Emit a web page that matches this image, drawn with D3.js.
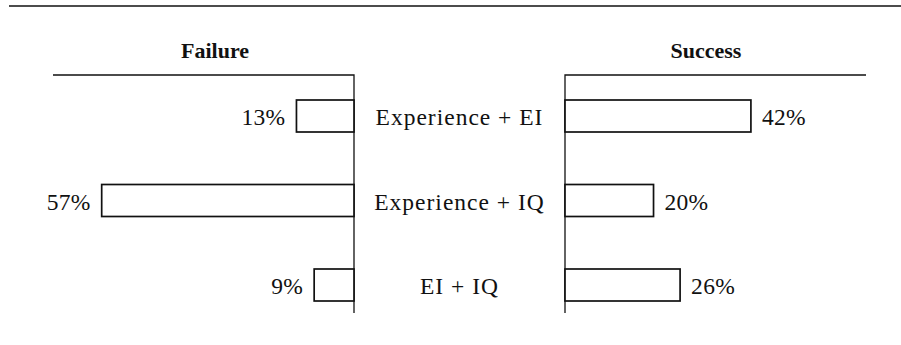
<!DOCTYPE html>
<html lang="en">
<head>
<meta charset="utf-8" />
<title>Failure vs Success</title>
<script src="https://cdn.jsdelivr.net/npm/d3@7"></script>
<style>
    body { margin: 0; background: #fff; }
    text { font-family: "Liberation Serif", "Times New Roman", serif; fill: #111; }
    .title { font-weight: bold; font-size: 22px; }
    .cat { font-size: 23.5px; letter-spacing: 1px; }
    .pct { font-size: 23.5px; letter-spacing: 0.3px; }
</style>
</head>
<body>
<script>
    let categories = ['Experience + EI', 'Experience + IQ', 'EI + IQ'];
    let failure = [13, 57, 9];
    let success = [42, 20, 26];

    let width = 901, height = 345;
    let failAxisX = 354, successAxisX = 565, axisTop = 75, axisBottom = 313;
    let barH = 32, gap = 11;

    let svg = d3.select('body').append('svg')
        .attr('width', width)
        .attr('height', height);

    // top rule
    svg.append('line')
        .attr('x1', 9).attr('x2', 901)
        .attr('y1', 6).attr('y2', 6)
        .attr('stroke', '#111').attr('stroke-width', 1.6);

    let len = d3.scaleLinear().domain([0, 68]).range([0, 301]);
    let y = d3.scalePoint().domain(categories).range([116, 285]);

    // axes: horizontal caps + vertical lines
    svg.append('path')
        .attr('d', `M${failAxisX - len(68)},${axisTop}H${failAxisX}V${axisBottom}`)
        .attr('fill', 'none').attr('stroke', '#111').attr('stroke-width', 1.3);
    svg.append('path')
        .attr('d', `M${successAxisX + len(68)},${axisTop}H${successAxisX}V${axisBottom}`)
        .attr('fill', 'none').attr('stroke', '#111').attr('stroke-width', 1.3);

    svg.append('text').attr('class', 'title')
        .attr('x', 215).attr('y', 58).attr('text-anchor', 'middle').text('Failure');
    svg.append('text').attr('class', 'title')
        .attr('x', 706).attr('y', 58).attr('text-anchor', 'middle').text('Success');

    let rows = categories.map((c, i) => ({ cat: c, fail: failure[i], succ: success[i] }));

    // failure bars
    svg.selectAll('.fail-bar').data(rows).enter().append('rect')
        .attr('class', 'fail-bar')
        .attr('x', d => failAxisX - len(d.fail))
        .attr('y', d => y(d.cat) - barH / 2)
        .attr('width', d => len(d.fail))
        .attr('height', barH)
        .attr('fill', '#fff').attr('stroke', '#111').attr('stroke-width', 1.7);

    svg.selectAll('.fail-lbl').data(rows).enter().append('text')
        .attr('class', 'pct')
        .attr('x', d => failAxisX - len(d.fail) - gap)
        .attr('y', d => y(d.cat) + 9)
        .attr('text-anchor', 'end')
        .text(d => d.fail + '%');

    // success bars
    svg.selectAll('.succ-bar').data(rows).enter().append('rect')
        .attr('class', 'succ-bar')
        .attr('x', successAxisX)
        .attr('y', d => y(d.cat) - barH / 2)
        .attr('width', d => len(d.succ))
        .attr('height', barH)
        .attr('fill', '#fff').attr('stroke', '#111').attr('stroke-width', 1.7);

    svg.selectAll('.succ-lbl').data(rows).enter().append('text')
        .attr('class', 'pct')
        .attr('x', d => successAxisX + len(d.succ) + gap)
        .attr('y', d => y(d.cat) + 9)
        .text(d => d.succ + '%');

    // category labels in the middle
    svg.selectAll('.cat').data(rows).enter().append('text')
        .attr('class', 'cat')
        .attr('x', (failAxisX + successAxisX) / 2)
        .attr('y', d => y(d.cat) + 9)
        .attr('text-anchor', 'middle')
        .text(d => d.cat);
</script>
</body>
</html>
